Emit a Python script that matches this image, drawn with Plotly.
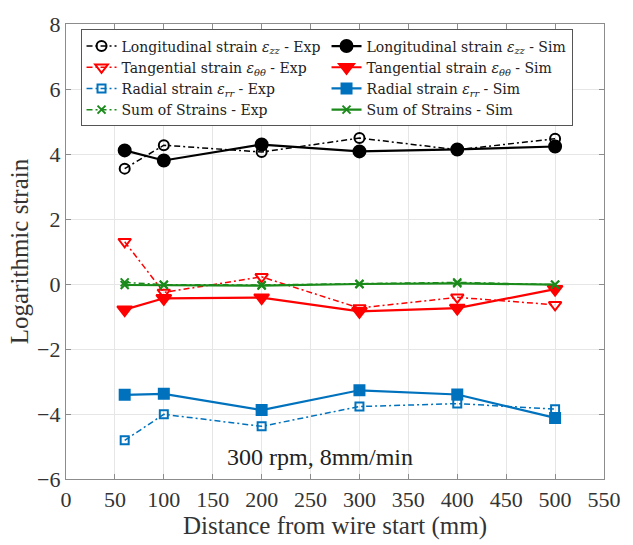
import plotly.graph_objects as go

# Measurement positions along the wire (mm)
distance = [60, 100, 200, 300, 400, 500]

# Logarithmic strains: experiment vs simulation
long_exp = [3.55, 4.27, 4.06, 4.49, 4.13, 4.47]
long_sim = [4.11, 3.80, 4.29, 4.08, 4.14, 4.23]
tang_exp = [1.30, -0.26, 0.22, -0.74, -0.41, -0.64]
tang_sim = [-0.79, -0.44, -0.42, -0.84, -0.74, -0.16]
rad_exp = [-4.81, -4.01, -4.38, -3.77, -3.68, -3.85]
rad_sim = [-3.41, -3.38, -3.88, -3.27, -3.40, -4.12]
sum_exp = [0.05, -0.02, -0.03, 0.00, 0.05, -0.02]
sum_sim = [-0.03, -0.03, -0.05, 0.00, 0.02, -0.02]

BLACK = "#000000"
RED = "#ff0000"
BLUE = "#0072bd"
GREEN = "#1a8a1a"
FONT = "Liberation Serif"
LEGEND_FONT = "DejaVu Serif"
DASHDOT = "6px,3px,2px,3px"

series = [
    ("Longitudinal strain <i>ε<sub>zz</sub></i> - Exp", long_exp, BLACK, "circle-open", 10),
    ("Longitudinal strain <i>ε<sub>zz</sub></i> - Sim", long_sim, BLACK, "circle", 12),
    ("Tangential strain <i>ε<sub>θθ</sub></i> - Exp", tang_exp, RED, "triangle-down-open", 11),
    ("Tangential strain <i>ε<sub>θθ</sub></i> - Sim", tang_sim, RED, "triangle-down", 13),
    ("Radial strain <i>ε<sub>rr</sub></i> - Exp", rad_exp, BLUE, "square-open", 8),
    ("Radial strain <i>ε<sub>rr</sub></i> - Sim", rad_sim, BLUE, "square", 10),
    ("Sum of Strains - Exp", sum_exp, GREEN, "x-thin-open", 8),
    ("Sum of Strains - Sim", sum_sim, GREEN, "x-thin-open", 8),
]

fig = go.Figure()
for i, (name, vals, color, symbol, size) in enumerate(series):
    is_exp = i % 2 == 0
    fig.add_trace(go.Scatter(
        x=distance, y=vals, name=name, mode="lines+markers",
        line=dict(color=color, dash=DASHDOT if is_exp else "solid",
                  width=1.5 if is_exp else 2.2),
        marker=dict(symbol=symbol, size=size, color=color,
                    line=dict(color=color, width=2)),
    ))

fig.add_annotation(x=260, y=-5.33, text="300 rpm, 8mm/min", showarrow=False,
                   font=dict(family=FONT, size=24, color="#222222"))

axis_common = dict(
    showline=True, linecolor="#8c8c8c", linewidth=1.2, mirror="ticks",
    ticks="inside", ticklen=5, tickcolor="#8c8c8c",
    showgrid=True, gridcolor="#e6e6e6", gridwidth=1, zeroline=False,
    tickfont=dict(family=FONT, size=22, color="#333333"),
)

fig.update_layout(
    width=633, height=545,
    margin=dict(l=66, r=19, t=20, b=66),
    plot_bgcolor="white", paper_bgcolor="white",
    font=dict(family=FONT, color="#222222"),
    xaxis=dict(range=[0, 550], dtick=50, tick0=0,
               title=dict(text="Distance from wire start (mm)", standoff=4,
                          font=dict(family=FONT, size=25, color="#333333")),
               **axis_common),
    yaxis=dict(range=[-6, 8], dtick=2, tick0=0,
               title=dict(text="Logarithmic strain", standoff=1,
                          font=dict(family=FONT, size=25, color="#333333")),
               **axis_common),
    legend=dict(
        orientation="h", x=0.027, y=0.988, xanchor="left", yanchor="top",
        bgcolor="white", bordercolor="#555555", borderwidth=1,
        font=dict(family=LEGEND_FONT, size=14, color="#222222"),
        entrywidth=200, itemwidth=30, tracegroupgap=0,
    ),
)

fig.write_html("out.html")
